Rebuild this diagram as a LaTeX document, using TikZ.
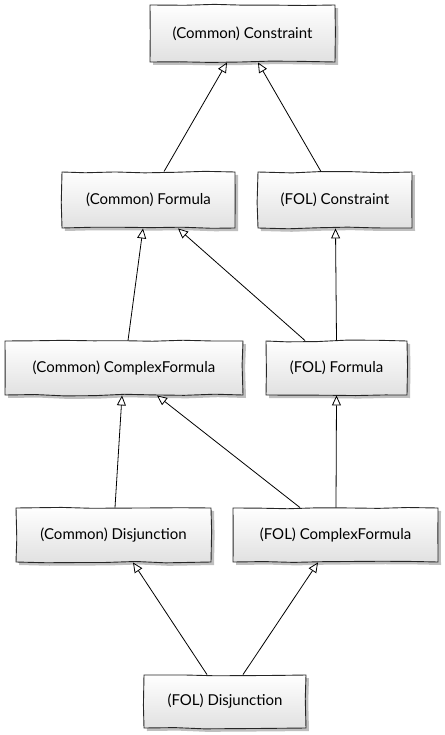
\documentclass[tikz,border=0pt]{standalone}
\usepackage{fontspec}
\setmainfont{Lato}
\usetikzlibrary{arrows.meta,shadows,decorations.pathmorphing}
\begin{document}
\begin{tikzpicture}[x=1pt,y=-1pt,
  cls/.style={draw=black!85, line width=0.9pt, top color=white, bottom color=black!12,
    inner sep=0pt, font=\fontsize{15}{17}\selectfont,
    drop shadow={shadow xshift=3pt, shadow yshift=-3pt, opacity=0.25, fill=black},
    decorate, decoration={random steps, segment length=30pt, amplitude=0.9pt}},
  gen/.style={draw=black, line width=0.8pt,
    -{Triangle[open, length=10pt, width=9pt, fill=white]}}]
\pgfmathsetseed{7}
\useasboundingbox (0,0) rectangle (444,735);
\node[cls, minimum width=185pt, minimum height=57pt] (cc)  at (242.5,33.5) {(Common) Constraint};
\node[cls, minimum width=173pt, minimum height=56pt] (cf)  at (148.5,200) {(Common) Formula};
\node[cls, minimum width=154pt, minimum height=56pt] (fc)  at (335,200) {(FOL) Constraint};
\node[cls, minimum width=238pt, minimum height=54pt] (ccf) at (124,368) {(Common) ComplexFormula};
\node[cls, minimum width=141pt, minimum height=54pt] (ff)  at (336.5,368) {(FOL) Formula};
\node[cls, minimum width=195pt, minimum height=54pt] (cd)  at (113.5,535) {(Common) Disjunction};
\node[cls, minimum width=205pt, minimum height=54pt] (fcf) at (335.5,535) {(FOL) ComplexFormula};
\node[cls, minimum width=162pt, minimum height=53pt] (fd)  at (225,701.5) {(FOL) Disjunction};

\draw[gen] ([xshift=15.5pt]cf.north) -- ([xshift=-15.5pt]cc.south);
\draw[gen] ([xshift=-14pt]fc.north) -- ([xshift=15.5pt]cc.south);
\draw[gen] ([xshift=4pt]ccf.north) -- ([xshift=-5.5pt]cf.south);
\draw[gen] ([xshift=-31.5pt]ff.north) -- ([xshift=29.5pt]cf.south);
\draw[gen] ([xshift=0pt]ff.north) -- ([xshift=0.5pt]fc.south);
\draw[gen] ([xshift=1.5pt]cd.north) -- ([xshift=-2pt]ccf.south);
\draw[gen] ([xshift=-35.5pt]fcf.north) -- ([xshift=33pt]ccf.south);
\draw[gen] ([xshift=0.5pt]fcf.north) -- ([xshift=0pt]ff.south);
\draw[gen] ([xshift=-18pt]fd.north) -- ([xshift=19.5pt]cd.south);
\draw[gen] ([xshift=18pt]fd.north) -- ([xshift=-17.5pt]fcf.south);
\end{tikzpicture}
\end{document}
